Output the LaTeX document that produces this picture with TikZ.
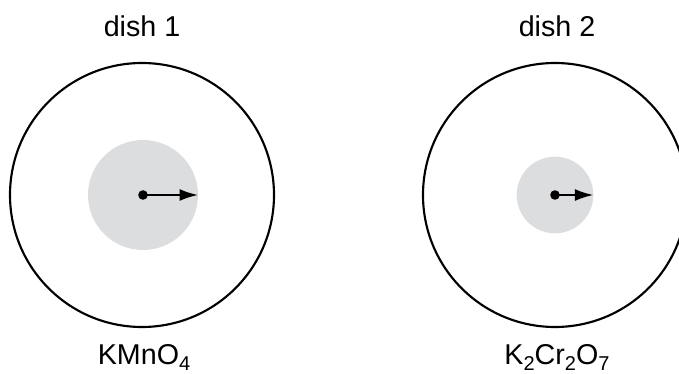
\documentclass[tikz,border=0pt]{standalone}
\usepackage{fontspec}
\setmainfont{Liberation Sans}
\usetikzlibrary{arrows.meta}
\definecolor{spotgray}{RGB}{220,221,222}
\newcommand{\chemsub}[1]{\raisebox{-0.24em}{\fontsize{15}{15}\selectfont #1}}
\tikzset{
  dish/.style={circle,draw=black,line width=1.6pt,minimum size=198pt,inner sep=0pt},
  spot/.style={circle,fill=spotgray,inner sep=0pt},
  label/.style={anchor=base,inner sep=0pt,font=\fontsize{21.5}{26}\selectfont},
  spread/.style={line width=1.8pt,-{Latex[length=14pt,width=9pt]}}
}
\begin{document}
\begin{tikzpicture}[x=0.75pt,y=-0.75pt]
  \useasboundingbox (0,0) rectangle (679,374);
  \clip (0,0) rectangle (679,374);

  \node[dish] (dish1) at (142,195) {};
  \node[spot,minimum size=82.5pt] (spot1) at (143,195) {};
  \coordinate (c1) at (143,195);
  \fill[black] (c1) circle (3.6pt);
  \draw[spread] (c1) -- (spot1.east);

  \node[dish] (dish2) at (555,195) {};
  \node[spot,minimum size=57.5pt] (spot2) at (555,195) {};
  \coordinate (c2) at (555,195);
  \fill[black] (c2) circle (3.6pt);
  \draw[spread] (c2) -- (spot2.east);

  \node[label] (name1) at (142,37) {dish 1};
  \node[label] (name2) at (557,37) {dish 2};
  \node[label] (salt1) at (144,364) {KMnO\chemsub{4}};
  \node[label] (salt2) at (557,364) {K\chemsub{2}Cr\chemsub{2}O\chemsub{7}};
\end{tikzpicture}
\end{document}
